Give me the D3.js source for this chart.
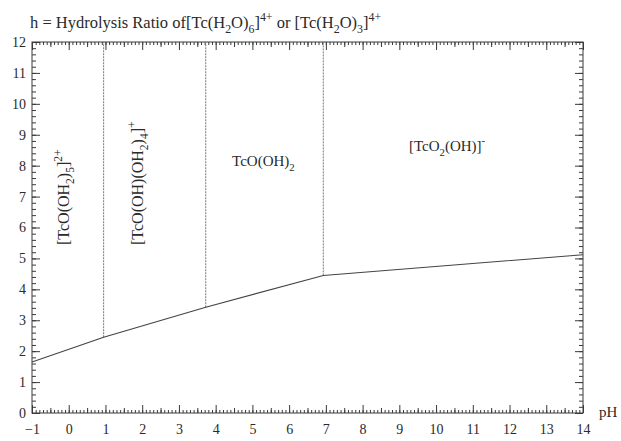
<!DOCTYPE html>
<html>
<head>
<meta charset="utf-8">
<script src="https://cdn.jsdelivr.net/npm/d3@7"></script>
<style>
  body { margin: 0; background: #fff; }
  svg { display: block; }
  text { font-family: "Liberation Serif", "Times New Roman", serif; fill: #2a2a2a; }
</style>
</head>
<body>
<svg id="chart" width="621" height="441"></svg>
<script>
// ---- data ----
const xTicks = [-1, 0, 1, 2, 3, 4, 5, 6, 7, 8, 9, 10, 11, 12, 13, 14];
const yTicks = [0, 1, 2, 3, 4, 5, 6, 7, 8, 9, 10, 11, 12];
const curvePH = [-1, 0.95, 3.73, 6.93, 14];
const curveH = [1.65, 2.45, 3.42, 4.45, 5.12];
const boundaryPH = [0.95, 3.73, 6.93];
const boundaryH = [2.45, 3.42, 4.45];
const xLabel = "pH";

const svg = d3.select("#chart");
const x = d3.scaleLinear().domain([-1, 14]).range([32, 583]);
const y = d3.scaleLinear().domain([0, 12]).range([413, 42]);

const ink = "#3a3a3a";

function styleAxis(g) {
  g.select(".domain").remove();
  g.selectAll("line").attr("stroke", ink).attr("stroke-width", 1);
  g.selectAll("text").attr("font-family", "Liberation Serif").attr("font-size", 14).attr("fill", "#2a2a2a");
}
const xMinor = d3.range(-1, 14.001, 0.1).map(v => +v.toFixed(2));
const xMid = d3.range(-0.5, 14, 1);
const yMinor = d3.range(0, 12.001, 0.2).map(v => +v.toFixed(2));

const B = y(0), T = y(12), L = x(-1), R = x(14);

// bottom
svg.append("g").attr("transform", `translate(0,${B})`)
  .call(d3.axisBottom(x).tickValues(xMinor).tickSize(-3).tickFormat("")).call(styleAxis);
svg.append("g").attr("transform", `translate(0,${B})`)
  .call(d3.axisBottom(x).tickValues(xMid).tickSize(-5).tickFormat("")).call(styleAxis);
svg.append("g").attr("transform", `translate(0,${B})`)
  .call(d3.axisBottom(x).tickValues(xTicks).tickSize(-8).tickPadding(11).tickFormat(d3.format("d"))).call(styleAxis);
// top
svg.append("g").attr("transform", `translate(0,${T})`)
  .call(d3.axisTop(x).tickValues(xMinor).tickSize(-3).tickFormat("")).call(styleAxis);
svg.append("g").attr("transform", `translate(0,${T})`)
  .call(d3.axisTop(x).tickValues(xMid).tickSize(-5).tickFormat("")).call(styleAxis);
svg.append("g").attr("transform", `translate(0,${T})`)
  .call(d3.axisTop(x).tickValues(xTicks).tickSize(-8).tickFormat("")).call(styleAxis);
// left
svg.append("g").attr("transform", `translate(${L},0)`)
  .call(d3.axisLeft(y).tickValues(yMinor).tickSize(-4).tickFormat("")).call(styleAxis);
svg.append("g").attr("transform", `translate(${L},0)`)
  .call(d3.axisLeft(y).tickValues(yTicks).tickSize(-8).tickPadding(6).tickFormat(d3.format("d"))).call(styleAxis);
// right
svg.append("g").attr("transform", `translate(${R},0)`)
  .call(d3.axisRight(y).tickValues(yMinor).tickSize(-4).tickFormat("")).call(styleAxis);
svg.append("g").attr("transform", `translate(${R},0)`)
  .call(d3.axisRight(y).tickValues(yTicks).tickSize(-8).tickFormat("")).call(styleAxis);

// frame
svg.append("rect").attr("x", L).attr("y", T).attr("width", R - L).attr("height", B - T)
  .attr("fill", "none").attr("stroke", ink).attr("stroke-width", 1);

// boundaries
svg.append("g").selectAll("line").data(boundaryPH).join("line")
  .attr("x1", d => x(d)).attr("x2", d => x(d))
  .attr("y1", (d, i) => y(boundaryH[i])).attr("y2", y(12))
  .attr("stroke", "#777").attr("stroke-width", 1).attr("stroke-dasharray", "2,1");

// curve
const pts = curvePH.map((p, i) => [p, curveH[i]]);
svg.append("path").datum(pts)
  .attr("d", d3.line().x(d => x(d[0])).y(d => y(d[1])))
  .attr("fill", "none").attr("stroke", "#444").attr("stroke-width", 1.1);

// x label
svg.append("text").attr("x", 599).attr("y", 417).attr("font-size", 15).text(xLabel);

function seq(list, size) {
  const out = [];
  let cur = 0;
  list.forEach(([t, m]) => {
    const target = m === "sub" ? size * 0.3 : m === "sup" ? -size * 0.45 : 0;
    out.push({ t, dy: target - cur, fs: m ? size * 0.72 : size });
    cur = target;
  });
  return out;
}
function richText(g, list, size) {
  seq(list, size).forEach(p => {
    g.append("tspan").attr("dy", p.dy).attr("font-size", p.fs).text(p.t);
  });
}

// title
const title = svg.append("text").attr("x", 30).attr("y", 28).attr("font-size", 16.5);
richText(title, [["h = Hydrolysis Ratio of[Tc(H"], ["2", "sub"], ["O)"], ["6", "sub"], ["]"], ["4+", "sup"],
  [" or [Tc(H"], ["2", "sub"], ["O)"], ["3", "sub"], ["]"], ["4+", "sup"]], 16.5);

// region labels
const fs = 15;
const fr = 16;
const l1 = svg.append("text").attr("transform", `translate(${x(0.02)},245) rotate(-90)`).attr("font-size", fr);
richText(l1, [["[TcO(OH"], ["2", "sub"], [")"], ["5", "sub"], ["]"], ["2+", "sup"]], fr);
const l2 = svg.append("text").attr("transform", `translate(${x(2.02)},245) rotate(-90)`).attr("font-size", fr);
richText(l2, [["[TcO(OH)(OH"], ["2", "sub"], [")"], ["4", "sub"], ["]"], ["+", "sup"]], fr);
const l3 = svg.append("text").attr("x", x(5.3)).attr("y", 166).attr("font-size", fs).attr("text-anchor", "middle");
richText(l3, [["TcO(OH)"], ["2", "sub"]], fs);
const l4 = svg.append("text").attr("x", x(10.3)).attr("y", 151).attr("font-size", fs).attr("text-anchor", "middle");
richText(l4, [["[TcO"], ["2", "sub"], ["(OH)]"], ["-", "sup"]], fs);
</script>
</body>
</html>
